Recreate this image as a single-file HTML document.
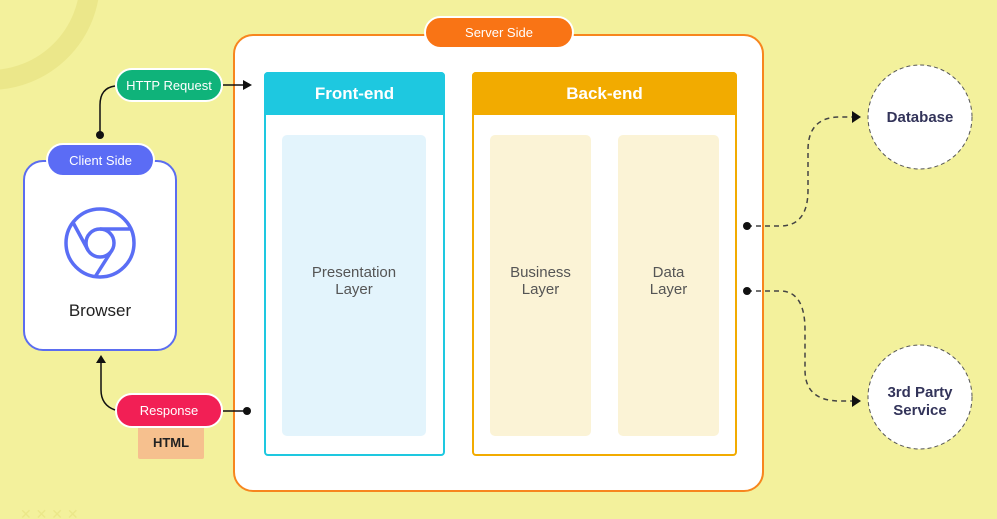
<!DOCTYPE html>
<html><head><style>
body{margin:0;width:997px;height:519px;overflow:hidden;background:#f3f19c;font-family:"Liberation Sans",sans-serif;position:relative}
.a{position:absolute;box-sizing:border-box}
.pill{position:absolute;box-sizing:border-box;border:2px solid #fff;border-radius:17px;color:#fff;font-size:13px;display:flex;align-items:center;justify-content:center}
.lbl{position:absolute;text-align:center;color:#555;font-size:15px;line-height:17px}
</style></head><body>
<svg class="a" style="left:0;top:0" width="997" height="519">
<circle cx="-10" cy="-20" r="100" fill="none" stroke="#ebe78a" stroke-width="20"/>
<text x="20" y="519" fill="#ebe78a" font-size="14">✕ ✕ ✕ ✕</text>
<circle cx="920" cy="117" r="52" fill="#fff" stroke="#555" stroke-width="1" stroke-dasharray="4,3"/>
<circle cx="920" cy="397" r="52" fill="#fff" stroke="#555" stroke-width="1" stroke-dasharray="4,3"/>
<text x="920" y="122" text-anchor="middle" font-size="15" font-weight="bold" fill="#33345a">Database</text>
<text x="920" y="397" text-anchor="middle" font-size="15" font-weight="bold" fill="#33345a">3rd Party</text>
<text x="920" y="415" text-anchor="middle" font-size="15" font-weight="bold" fill="#33345a">Service</text>
</svg>
<div class="a" style="left:233px;top:34px;width:531px;height:458px;background:#fff;border:2px solid #f7861e;border-radius:20px"></div>
<div class="pill" style="left:424px;top:16px;width:150px;height:33px;background:#f97415">Server Side</div>
<div class="a" style="left:264px;top:72px;width:181px;height:384px;border:2px solid #1ec8e0;border-radius:4px"></div>
<div class="a" style="left:264px;top:72px;width:181px;height:43px;background:#1ec8e0;border-radius:4px 4px 0 0;color:#fff;font-weight:bold;font-size:17px;text-align:center;line-height:43px">Front-end</div>
<div class="a" style="left:282px;top:135px;width:144px;height:301px;background:#e3f4fc;border-radius:5px"></div>
<div class="lbl" style="left:282px;top:264px;width:144px">Presentation<br>Layer</div>
<div class="a" style="left:472px;top:72px;width:265px;height:384px;border:2px solid #f2ab00;border-radius:4px"></div>
<div class="a" style="left:472px;top:72px;width:265px;height:43px;background:#f2ab00;border-radius:4px 4px 0 0;color:#fff;font-weight:bold;font-size:17px;text-align:center;line-height:43px">Back-end</div>
<div class="a" style="left:490px;top:135px;width:101px;height:301px;background:#fbf3d6;border-radius:5px"></div>
<div class="a" style="left:618px;top:135px;width:101px;height:301px;background:#fbf3d6;border-radius:5px"></div>
<div class="lbl" style="left:490px;top:264px;width:101px">Business<br>Layer</div>
<div class="lbl" style="left:618px;top:264px;width:101px">Data<br>Layer</div>
<div class="a" style="left:23px;top:160px;width:154px;height:191px;background:#fff;border:2px solid #5b6df0;border-radius:20px"></div>
<svg class="a" style="left:60px;top:203px" width="80" height="80">
<g fill="none" stroke="#5a6ef5" stroke-width="3.5">
<circle cx="40" cy="40" r="34"/><circle cx="40" cy="40" r="14"/>
<path d="M40 26 L72 26 M27.9 47 L12.5 18.5 M52.1 47 L35 74"/>
</g></svg>
<div class="a" style="left:23px;top:301px;width:154px;text-align:center;font-size:17px;color:#222">Browser</div>
<div class="pill" style="left:46px;top:143px;width:109px;height:34px;background:#5b6cf5">Client Side</div>
<div class="pill" style="left:115px;top:68px;width:108px;height:34px;background:#0fb37a">HTTP Request</div>
<div class="a" style="left:138px;top:426px;width:66px;height:33px;background:#f6c08e;border-radius:2px;text-align:center;line-height:33px;font-size:13px;font-weight:bold;color:#222">HTML</div>
<div class="pill" style="left:115px;top:393px;width:108px;height:35px;background:#f21f55">Response</div>
<svg class="a" style="left:0;top:0;pointer-events:none" width="997" height="519">
<path d="M100 135 L100 105 Q100 88 115 86" fill="none" stroke="#111" stroke-width="1.5"/>
<circle cx="100" cy="135" r="4" fill="#111"/>
<path d="M223 85 L245 85" stroke="#111" stroke-width="1.5"/>
<path d="M243 80 L252 85 L243 90Z" fill="#111"/>
<path d="M115 410 Q101 405 101 390 L101 362" fill="none" stroke="#111" stroke-width="1.5"/>
<path d="M96 363 L101 355 L106 363Z" fill="#111"/>
<path d="M223 411 L247 411" stroke="#111" stroke-width="1.5"/>
<circle cx="247" cy="411" r="4" fill="#111"/>
<path d="M747 226 L780 226 Q808 226 808 190 L808 150 Q808 117 840 117 L853 117" fill="none" stroke="#444" stroke-width="1.5" stroke-dasharray="5,4"/>
<path d="M747 291 L780 291 Q805 291 805 330 L805 370 Q805 401 840 401 L853 401" fill="none" stroke="#444" stroke-width="1.5" stroke-dasharray="5,4"/>
<path d="M852 111 L861 117 L852 123Z" fill="#111"/>
<path d="M852 395 L861 401 L852 407Z" fill="#111"/>
<circle cx="747" cy="226" r="4" fill="#111"/><circle cx="747" cy="291" r="4" fill="#111"/>
</svg>
</body></html>
